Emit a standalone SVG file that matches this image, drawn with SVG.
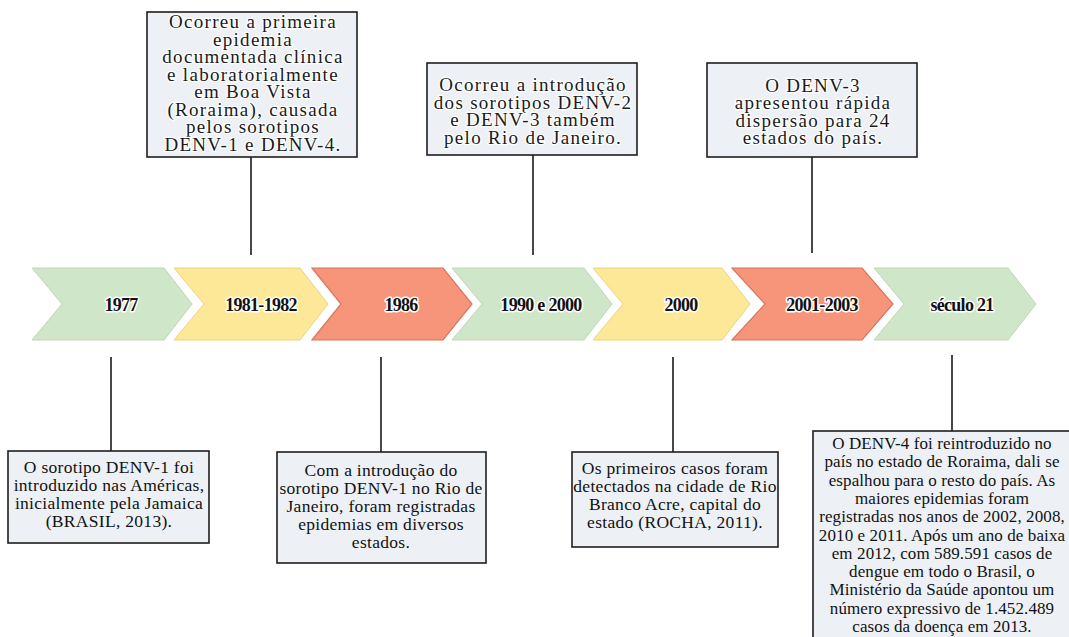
<svg xmlns="http://www.w3.org/2000/svg" width="1069" height="637" viewBox="0 0 1069 637">
<style>
.bg{fill:#ffffff}
.box{fill:#edf1f6;stroke:#1e1e1e;stroke-width:1.6}
.green{fill:#cfe6c8;stroke:#bcd8b4;stroke-width:1}
.yellow{fill:#fde897;stroke:#ecd47f;stroke-width:1}
.salmon{fill:#f7957b;stroke:#d9755d;stroke-width:1.2}
.lbl{font-family:"Liberation Serif","Times New Roman",serif;font-weight:bold;font-size:18px;fill:#111;text-anchor:middle;paint-order:stroke;stroke:#ffffff;stroke-width:3px;stroke-linejoin:round;letter-spacing:-0.7px}
.top{font-family:"Liberation Serif","Times New Roman",serif;font-size:19px;fill:#1a1a1a;text-anchor:middle;letter-spacing:1.3px;paint-order:stroke;stroke:#ffffff;stroke-width:2.5px;stroke-linejoin:round}
.bot{font-family:"Liberation Serif","Times New Roman",serif;font-size:17.5px;fill:#111;text-anchor:middle;letter-spacing:0.3px}
.bot4{font-family:"Liberation Serif","Times New Roman",serif;font-size:17px;fill:#111;text-anchor:middle;letter-spacing:0.1px}
.conn{stroke:#1a1a1a;stroke-width:1.6;fill:none}
</style>
<rect class="bg" x="0" y="0" width="1069" height="637"/>

<g id="connectors">
  <line class="conn" x1="251" y1="157" x2="251" y2="255"/>
  <line class="conn" x1="533" y1="155" x2="533" y2="255"/>
  <line class="conn" x1="812" y1="157" x2="812" y2="253"/>
  <line class="conn" x1="111" y1="357" x2="111" y2="451"/>
  <line class="conn" x1="381" y1="357" x2="381" y2="452"/>
  <line class="conn" x1="673" y1="357" x2="673" y2="452"/>
  <line class="conn" x1="952" y1="355" x2="952" y2="431"/>
</g>

<g id="chevron-1977">
  <path class="green" d="M32,268 L164,268 L192,304 L164,340 L32,340 L62,304 Z"/>
  <text class="lbl" x="121" y="311">1977</text>
</g>
<g id="chevron-1981">
  <path class="yellow" d="M174,268 L300,268 L328,304 L300,340 L174,340 L204,304 Z"/>
  <text class="lbl" x="261" y="311">1981-1982</text>
</g>
<g id="chevron-1986">
  <path class="salmon" d="M312,268 L443,268 L472,304 L443,340 L312,340 L341,304 Z"/>
  <text class="lbl" x="401" y="311">1986</text>
</g>
<g id="chevron-1990">
  <path class="green" d="M452,268 L584,268 L612,304 L584,340 L452,340 L482,304 Z"/>
  <text class="lbl" x="541" y="311">1990 e 2000</text>
</g>
<g id="chevron-2000">
  <path class="yellow" d="M593,268 L722,268 L750,304 L722,340 L593,340 L623,304 Z"/>
  <text class="lbl" x="681" y="311">2000</text>
</g>
<g id="chevron-2001">
  <path class="salmon" d="M732,268 L862,268 L893,304 L862,340 L732,340 L765,304 Z"/>
  <text class="lbl" x="822" y="311">2001-2003</text>
</g>
<g id="chevron-seculo">
  <path class="green" d="M874,268 L1008,268 L1036,304 L1008,340 L874,340 L904,304 Z"/>
  <text class="lbl" x="962" y="311">século 21</text>
</g>

<g id="top-box-1">
  <rect class="box" x="147" y="12" width="210" height="145"/>
  <text class="top" x="253" y="28">Ocorreu a primeira</text>
  <text class="top" x="253" y="45.5">epidemia</text>
  <text class="top" x="253" y="63">documentada clínica</text>
  <text class="top" x="253" y="80.5">e laboratorialmente</text>
  <text class="top" x="253" y="98">em Boa Vista</text>
  <text class="top" x="253" y="115.5">(Roraima), causada</text>
  <text class="top" x="253" y="133">pelos sorotipos</text>
  <text class="top" x="253" y="150.5">DENV-1 e DENV-4.</text>
</g>

<g id="top-box-2">
  <rect class="box" x="427" y="63" width="210" height="92"/>
  <text class="top" x="533" y="91">Ocorreu a introdução</text>
  <text class="top" x="533" y="108.5">dos sorotipos DENV-2</text>
  <text class="top" x="533" y="126">e DENV-3 também</text>
  <text class="top" x="533" y="143.5">pelo Rio de Janeiro.</text>
</g>

<g id="top-box-3">
  <rect class="box" x="707" y="63" width="210" height="94"/>
  <text class="top" x="813" y="91.5">O DENV-3</text>
  <text class="top" x="813" y="109">apresentou rápida</text>
  <text class="top" x="813" y="126.5">dispersão para 24</text>
  <text class="top" x="813" y="144">estados do país.</text>
</g>

<g id="bottom-box-1">
  <rect class="box" x="8" y="451" width="201" height="92"/>
  <text class="bot" x="109" y="473">O sorotipo DENV-1 foi</text>
  <text class="bot" x="109" y="491">introduzido nas Américas,</text>
  <text class="bot" x="109" y="509">inicialmente pela Jamaica</text>
  <text class="bot" x="109" y="527">(BRASIL, 2013).</text>
</g>

<g id="bottom-box-2">
  <rect class="box" x="277" y="452" width="209" height="111"/>
  <text class="bot" x="381" y="476">Com a introdução do</text>
  <text class="bot" x="381" y="494">sorotipo DENV-1 no Rio de</text>
  <text class="bot" x="381" y="512">Janeiro, foram registradas</text>
  <text class="bot" x="381" y="530">epidemias em diversos</text>
  <text class="bot" x="381" y="548">estados.</text>
</g>

<g id="bottom-box-3">
  <rect class="box" x="572" y="452" width="206" height="95"/>
  <text class="bot" x="675" y="474">Os primeiros casos foram</text>
  <text class="bot" x="675" y="492">detectados na cidade de Rio</text>
  <text class="bot" x="675" y="510">Branco Acre, capital do</text>
  <text class="bot" x="675" y="528">estado (ROCHA, 2011).</text>
</g>

<g id="bottom-box-4">
  <rect class="box" x="813" y="431" width="262" height="215"/>
  <text class="bot4" x="942" y="449">O DENV-4 foi reintroduzido no</text>
  <text class="bot4" x="942" y="467.3">país no estado de Roraima, dali se</text>
  <text class="bot4" x="942" y="485.6">espalhou para o resto do país. As</text>
  <text class="bot4" x="942" y="503.9">maiores epidemias foram</text>
  <text class="bot4" x="942" y="522.2">registradas nos anos de 2002, 2008,</text>
  <text class="bot4" x="942" y="540.5">2010 e 2011. Após um ano de baixa</text>
  <text class="bot4" x="942" y="558.8">em 2012, com 589.591 casos de</text>
  <text class="bot4" x="942" y="577.1">dengue em todo o Brasil, o</text>
  <text class="bot4" x="942" y="595.4">Ministério da Saúde apontou um</text>
  <text class="bot4" x="942" y="613.7">número expressivo de 1.452.489</text>
  <text class="bot4" x="942" y="632">casos da doença em 2013.</text>
</g>
</svg>
